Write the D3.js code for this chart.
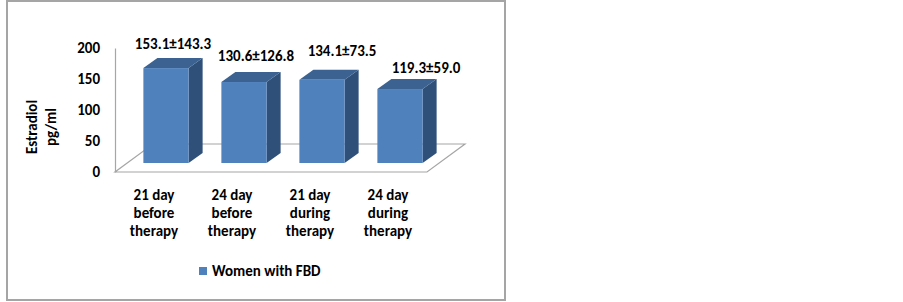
<!DOCTYPE html>
<html>
<head>
<meta charset="utf-8">
<script src="https://cdn.jsdelivr.net/npm/d3@7"></script>
<style>
  body { margin: 0; background: #fff; }
  svg text { font-family: Carlito, Calibri, "Liberation Sans", Arial, sans-serif; font-weight: bold; fill: #000; }
</style>
</head>
<body>
<div id="chart"></div>
<script>
// data
var categories = ["21 day before therapy", "24 day before therapy", "21 day during therapy", "24 day during therapy"];
var means = [153.1, 130.6, 134.1, 119.3];
var sds = [143.3, 126.8, 73.5, 59.0];
var yTicks = [0, 50, 100, 150, 200];
var seriesName = "Women with FBD";

var svgWidth = 903;
var svgHeight = 302;
var fontSize = "15px";

// the data labels were hand-placed in the original, small nudges
var labelNudgeX = [0, 5, 13, 19];
var labelNudgeY = [0, -2, -5, 3];

var svg = d3.select("#chart")
  .append("svg")
  .attr("width", svgWidth)
  .attr("height", svgHeight);

// outer frame
svg.append("rect")
  .attr("x", 7)
  .attr("y", 1)
  .attr("width", 498)
  .attr("height", 299)
  .attr("fill", "#fff")
  .attr("stroke", "#a5a5a5")
  .attr("stroke-width", 2);

// scales on the front plane
var xScale = d3.scaleBand()
  .domain(categories)
  .range([115, 427]);

var yScale = d3.scaleLinear()
  .domain([0, 200])
  .range([172, 48]);

// 3d offsets
var floorDepth = { x: 38, y: -28 };
var barShift = { x: 12, y: -9 };
var barDepth = { x: 14, y: -10 };
var barWidth = xScale.bandwidth() * 0.58;

// floor
var x0 = xScale.range()[0], x1 = xScale.range()[1], y0 = yScale(0);
svg.append("polygon")
  .attr("points", [
    [x0, y0], [x1, y0],
    [x1 + floorDepth.x, y0 + floorDepth.y],
    [x0 + floorDepth.x, y0 + floorDepth.y]
  ].map(p => p.join(",")).join(" "))
  .attr("fill", "#fff")
  .attr("stroke", "#a6a6a6")
  .attr("stroke-width", 1.2);

// y axis
var leftAxis = d3.axisLeft(yScale)
  .tickValues(yTicks)
  .tickSize(0)
  .tickSizeOuter(0)
  .tickPadding(15);

var yAxisG = svg.append("g")
  .attr("transform", `translate(${x0}, 0)`)
  .call(leftAxis);
yAxisG.select(".domain").attr("stroke", "#a6a6a6").attr("stroke-width", 1.2);
yAxisG.selectAll("text")
  .attr("font-size", fontSize)
  .attr("font-family", null);

// bars
var bars = svg.append("g").selectAll("g")
  .data(categories)
  .enter()
  .append("g");

function frontLeft(d) {
  return xScale(d) + xScale.bandwidth() / 2 + barShift.x - barWidth / 2;
}
function topY(i) { return yScale(means[i]) + barShift.y; }
function baseY() { return yScale(0) + barShift.y; }

// side face
bars.append("polygon")
  .attr("points", function(d, i) {
    var xr = frontLeft(d) + barWidth;
    return [
      [xr, topY(i)], [xr + barDepth.x, topY(i) + barDepth.y],
      [xr + barDepth.x, baseY() + barDepth.y], [xr, baseY()]
    ].map(p => p.join(",")).join(" ");
  })
  .attr("fill", "#2f5179");

// top face
bars.append("polygon")
  .attr("points", function(d, i) {
    var xl = frontLeft(d), xr = xl + barWidth, t = topY(i);
    return [
      [xl, t], [xr, t],
      [xr + barDepth.x, t + barDepth.y], [xl + barDepth.x, t + barDepth.y]
    ].map(p => p.join(",")).join(" ");
  })
  .attr("fill", "#3b6291");

// front face
bars.append("rect")
  .attr("x", d => frontLeft(d))
  .attr("y", (d, i) => topY(i))
  .attr("width", barWidth)
  .attr("height", (d, i) => baseY() - topY(i))
  .attr("fill", "#4f81bd");

// data labels
bars.append("text")
  .attr("x", (d, i) => frontLeft(d) + (barWidth + barDepth.x) / 2 + labelNudgeX[i])
  .attr("y", (d, i) => topY(i) + barDepth.y - 9 + labelNudgeY[i])
  .attr("text-anchor", "middle")
  .attr("font-size", fontSize)
  .text((d, i) => means[i].toFixed(1) + "\u00b1" + sds[i].toFixed(1));

// category labels (three lines each)
var catLabels = svg.append("g").selectAll("text")
  .data(categories)
  .enter()
  .append("text")
  .attr("text-anchor", "middle")
  .attr("font-size", fontSize)
  .attr("transform", d => `translate(${xScale(d) + xScale.bandwidth() / 2}, 200)`);

catLabels.selectAll("tspan")
  .data(d => {
    var w = d.split(" ");
    return [w[0] + " " + w[1], w[2], w[3]];
  })
  .enter()
  .append("tspan")
  .attr("x", 0)
  .attr("y", (d, i) => i * 18)
  .text(d => d);

// y axis title
var yTitle = svg.append("text")
  .attr("transform", "translate(37, 127) rotate(-90)")
  .attr("text-anchor", "middle")
  .attr("font-size", fontSize);
yTitle.append("tspan").attr("x", 0).attr("y", 0).text("Estradiol");
yTitle.append("tspan").attr("x", 0).attr("y", 19).text("pg/ml");

// legend
var legend = svg.append("g").attr("transform", "translate(199, 267)");
legend.append("rect")
  .attr("width", 8)
  .attr("height", 8)
  .attr("fill", "#4f81bd");
legend.append("text")
  .attr("x", 13)
  .attr("y", 9)
  .attr("font-size", fontSize)
  .text(seriesName);
</script>
</body>
</html>
